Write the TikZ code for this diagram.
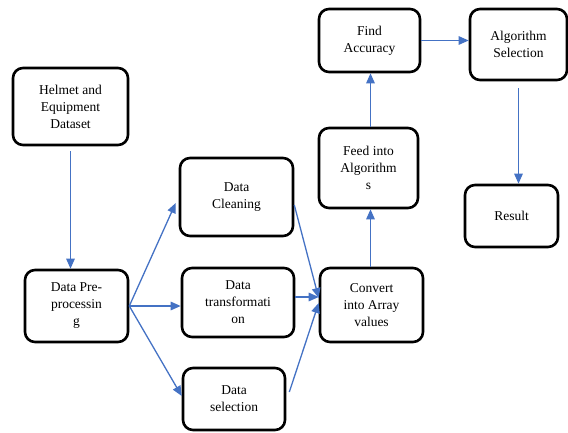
\documentclass[tikz,border=0pt]{standalone}
\usepackage{fontspec}
\setmainfont{Liberation Serif}
\usepackage{xcolor}
\usetikzlibrary{arrows.meta,positioning}
\definecolor{flowblue}{RGB}{68,114,196}

\begin{document}
\begin{tikzpicture}[
    x=1pt, y=-1pt,
    stepbox/.style={draw, line width=2.6pt, rounded corners=10pt, align=center,
                    inner sep=2pt, font=\fontsize{13.5}{17}\selectfont},
    arr/.style={-{Triangle[length=10pt, width=8.5pt]}, line width=1.3pt, flowblue},
  ]
  \useasboundingbox (0,0) rectangle (568,432);

  % --- Input side ---
  \node[stepbox, minimum width=115pt, minimum height=77pt] (helmet) at (70.5, 106.5)
    {Helmet and\\Equipment\\Dataset};
  \node[stepbox, minimum width=103pt, minimum height=72pt] (pre) at (76.5, 306)
    {Data Pre-\\processin\\g};

  % --- Preprocessing steps ---
  \node[stepbox, minimum width=113pt, minimum height=78pt] (clean) at (236.5, 197)
    {Data\\Cleaning};
  \node[stepbox, minimum width=112pt, minimum height=69pt] (trans) at (238, 302.5)
    {Data\\transformati\\on};
  \node[stepbox, minimum width=102pt, minimum height=62pt] (sel) at (234, 399)
    {Data\\selection};

  % --- Model side ---
  \node[stepbox, minimum width=103pt, minimum height=74pt] (conv) at (371.5, 305)
    {Convert\\into Array\\values};
  \node[stepbox, minimum width=99pt, minimum height=80pt] (feed) at (368.5, 168)
    {Feed into\\Algorithm\\s};
  \node[stepbox, minimum width=101pt, minimum height=63pt] (find) at (369.5, 40.5)
    {Find\\Accuracy};
  \node[stepbox, minimum width=97pt, minimum height=71pt] (algo) at (518.5, 44.5)
    {Algorithm\\Selection};
  \node[stepbox, minimum width=93pt, minimum height=62pt] (result) at (511.5, 216)
    {Result};

  % --- Connectors ---
  \draw[arr] ([yshift=-5pt]helmet.south) -- (helmet.south |- pre.north);
  \draw[arr] (pre.east) -- ([xshift=-3pt, yshift=-6pt]clean.west);
  \draw[arr] (pre.east) -- (pre.east -| trans.west);
  \draw[arr] (pre.east) -- ([yshift=3pt]sel.west);
  \draw[arr] ([yshift=-8pt]clean.east) -- ([yshift=7pt]conv.west);
  \draw[arr] ([yshift=5.5pt]trans.east) -- ([yshift=8pt]conv.west);
  \draw[arr] ([xshift=3pt, yshift=7pt]sel.east) -- ([yshift=2pt]conv.west);
  \draw[arr] ([xshift=-1pt]conv.north) -- ([xshift=-1pt]conv.north |- feed.south);
  \draw[arr] ([xshift=2pt]feed.north) -- ([xshift=2pt]feed.north |- find.south);
  \draw[arr] (find.east) -- (find.east -| algo.west);
  \draw[arr] ([yshift=-7pt]algo.south) -- (algo.south |- result.north);
\end{tikzpicture}
\end{document}
